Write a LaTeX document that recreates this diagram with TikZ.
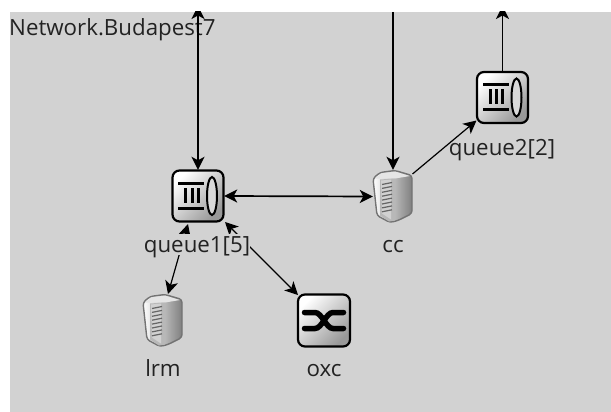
\documentclass[tikz,border=0pt]{standalone}
\usepackage{fontspec}
\setmainfont{Open Sans}
\usetikzlibrary{arrows.meta,calc}
\definecolor{canvas}{HTML}{D2D2D2}
\definecolor{ink}{HTML}{222222}
\tikzset{
  lbl/.style={font=\fontsize{22.3}{24}\selectfont,text=ink,inner sep=0pt,anchor=base},
  masked/.style={fill=canvas,text height=18pt,text depth=3pt},
  headtip/.tip={Stealth[length=13pt,width=13pt,inset=3.5pt]},
  wire/.style={draw=black,line width=1.7pt,-headtip},
  wiretwo/.style={draw=black,line width=1.7pt,headtip-headtip},
  wirethin/.style={draw=black,line width=1.2pt,-headtip},
  wirethintwo/.style={draw=black,line width=1.2pt,headtip-headtip},
  anchorbox/.style={minimum width=52pt,minimum height=52pt,inner sep=0pt},
  srvbox/.style={minimum width=40pt,minimum height=53pt,inner sep=0pt},
  iconface/.style={left color=white,middle color=white!90!black,right color=black!40,shading angle=45,
    rounded corners=7pt,draw=black,line width=2.2pt}
}
\newcommand{\queueicon}[1]{
  \begin{scope}[shift={(#1)}]
    \shade[iconface] (-25.5,-25.5) rectangle (25.5,25.5);
    \fill[black] (-20,-14) rectangle (6,-11);
    \fill[black] (-20,10.5) rectangle (6,13.5);
    \fill[black] (-14,-8) rectangle (-11,7);
    \fill[black] (-7.5,-8) rectangle (-4.5,7);
    \fill[black] (-1.5,-8) rectangle (1.5,7);
    \draw[black,line width=2pt,fill=white!85!black] (14,0) ellipse (5 and 19);
  \end{scope}
}
\newcommand{\servericon}[1]{
  \begin{scope}[shift={(#1)}]
    \shade[left color=white,right color=black!50,draw=black!55,line width=1.4pt,rounded corners=3pt]
      (-20,-18) -- (-13,-24) -- (2,-26) -- (19,-21) -- (19,17) -- (5,24) -- (-3,26) -- (-16,19) -- cycle;
    \fill[white!90!black] (-18,-18) -- (-12,-23) -- (2,-25) -- (17,-20.5) -- (2,-18) -- cycle;
    \fill[black!28] (-13,-17) -- (2,-18) -- (2,24) -- (-4,25) -- (-13,19) -- cycle;
    \fill[white!82!black] (-12,-16) -- (-2,-17) -- (-2,23) -- (-11,17) -- cycle;
    \foreach \k in {0,...,7}
      \draw[black!60,line width=1.2pt] (-11,-12+\k*3.9) -- (-1,-14+\k*3.9);
  \end{scope}
}
\begin{document}
\begin{tikzpicture}[x=1pt,y=-1pt]
\useasboundingbox (0,0) rectangle (611,412);
\fill[white] (0,0) rectangle (611,412);
\fill[canvas] (10,12) rectangle (611,412);
\node[anchorbox] (q1) at (198,196) {};
\node[anchorbox] (q2) at (502.5,97.5) {};
\node[srvbox] (cc) at (393,196.5) {};
\node[srvbox] (lrm) at (163,320.5) {};
\node[anchorbox] (oxc) at (324,320.5) {};
\coordinate (topa) at (198,6);
\coordinate (topc) at (393,12);
\coordinate (topd) at (502.5,6);
\coordinate (q1sw) at (188,224);
\coordinate (q1se) at (225,222);
\coordinate (ccne) at (412.5,174);
\coordinate (q2sw) at (476.5,120.5);
\coordinate (lrmn) at (168,294);
\coordinate (oxcnw) at (298,295);
\queueicon{198,196}
\queueicon{502.5,97.5}
\servericon{393,196.5}
\servericon{163,320.5}
\begin{scope}[shift={(324,320.5)}]
  \shade[iconface] (-26,-26) rectangle (26,26);
  \draw[black,line width=5.5pt,line cap=round] (-19.5,-8) -- (-9,-8) .. controls (-2,-8) and (2,8) .. (9,8) -- (19.5,8);
  \draw[black,line width=5.5pt,line cap=round] (-19.5,8) -- (-9,8) .. controls (-2,8) and (2,-8) .. (9,-8) -- (19.5,-8);
\end{scope}
\node[lbl,anchor=base west] (title) at (9,36) {Network.Budapest7};
\begin{scope}
  \clip (10,12) rectangle (611,412);
  \draw[wiretwo] (topa) -- (q1.north);
  \draw[wire] (topc) -- (cc.north);
  \draw[wire] (q2.north) -- (topd);
\end{scope}
\draw[wiretwo] (q1.east) -- (cc.west);
\draw[wirethin] (ccne) -- (q2sw);
\draw[wirethintwo] (q1sw) -- (lrmn);
\draw[wirethintwo] (q1se) -- (oxcnw);
\node[lbl,masked] (q1l) at (197,252) {queue1[5]};
\node[lbl] (q2l) at (502,155) {queue2[2]};
\node[lbl] (ccl) at (393,252) {cc};
\node[lbl] (lrml) at (163,376) {lrm};
\node[lbl] (oxcl) at (324,376) {oxc};
\end{tikzpicture}
\end{document}
